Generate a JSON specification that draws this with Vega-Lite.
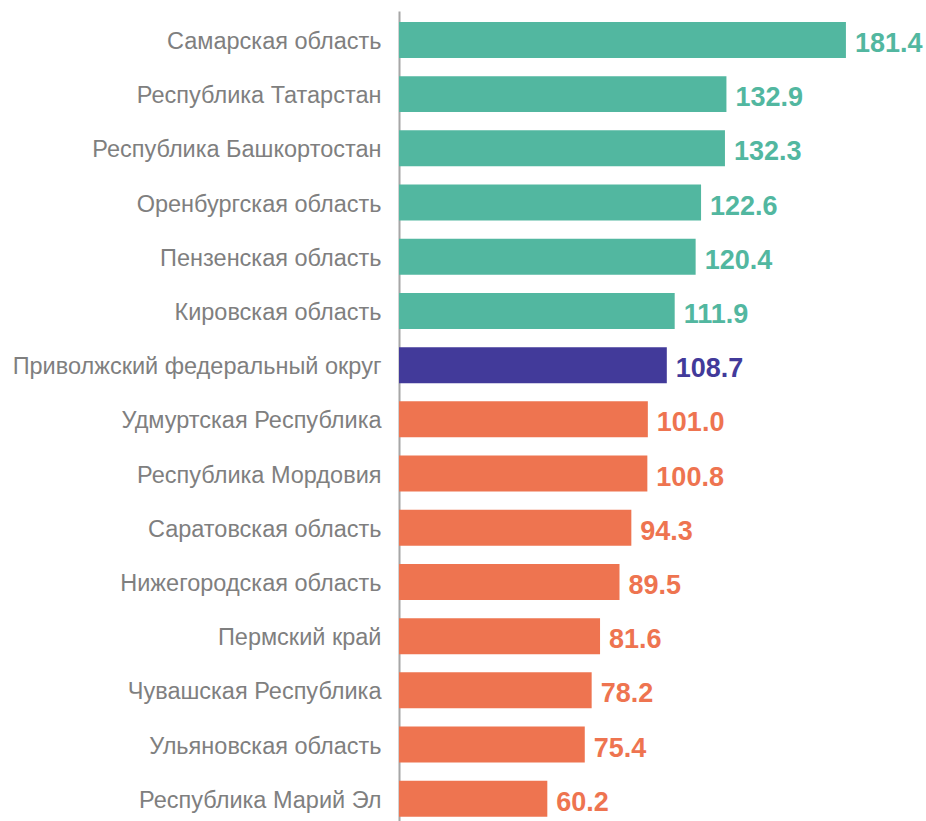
{
  "$schema": "https://vega.github.io/schema/vega-lite/v6.json",
  "autosize": "none",
  "width": 527,
  "height": 810,
  "padding": {"left": 399, "top": 11, "right": 0, "bottom": 0},
  "background": "white",
  "config": {"view": {"stroke": null}},
  "data": {
    "values": [
      {"region": "Самарская область", "value": 181.4, "group": "above"},
      {"region": "Республика Татарстан", "value": 132.9, "group": "above"},
      {"region": "Республика Башкортостан", "value": 132.3, "group": "above"},
      {"region": "Оренбургская область", "value": 122.6, "group": "above"},
      {"region": "Пензенская область", "value": 120.4, "group": "above"},
      {"region": "Кировская область", "value": 111.9, "group": "above"},
      {"region": "Приволжский федеральный округ", "value": 108.7, "group": "district"},
      {"region": "Удмуртская Республика", "value": 101.0, "group": "below"},
      {"region": "Республика Мордовия", "value": 100.8, "group": "below"},
      {"region": "Саратовская область", "value": 94.3, "group": "below"},
      {"region": "Нижегородская область", "value": 89.5, "group": "below"},
      {"region": "Пермский край", "value": 81.6, "group": "below"},
      {"region": "Чувашская Республика", "value": 78.2, "group": "below"},
      {"region": "Ульяновская область", "value": 75.4, "group": "below"},
      {"region": "Республика Марий Эл", "value": 60.2, "group": "below"}
    ]
  },
  "encoding": {
    "y": {
      "field": "region",
      "type": "nominal",
      "sort": null,
      "scale": {"paddingInner": 0.336, "paddingOuter": 0.14, "align": 0.72},
      "axis": {
        "title": null,
        "ticks": false,
        "domain": true,
        "domainColor": "#a6a6a6",
        "domainWidth": 2,
        "labelFont": "Liberation Sans",
        "labelFontSize": 23.5,
        "labelColor": "#7f7f7f",
        "labelPadding": 18,
        "labelOffset": 2,
        "labelLimit": 420
      }
    },
    "x": {
      "field": "value",
      "type": "quantitative",
      "scale": {"domain": [0, 213.9], "nice": false},
      "axis": null
    },
    "color": {
      "field": "group",
      "type": "nominal",
      "scale": {"domain": ["above", "district", "below"], "range": ["#52b7a0", "#423a9a", "#ee7450"]},
      "legend": null
    }
  },
  "layer": [
    {"mark": {"type": "bar"}},
    {
      "mark": {"type": "text", "align": "left", "baseline": "middle", "dx": 9, "dy": 4, "font": "Liberation Sans", "fontSize": 27, "fontWeight": "bold"},
      "encoding": {"text": {"field": "value", "type": "quantitative", "format": ".1f"}}
    }
  ]
}
